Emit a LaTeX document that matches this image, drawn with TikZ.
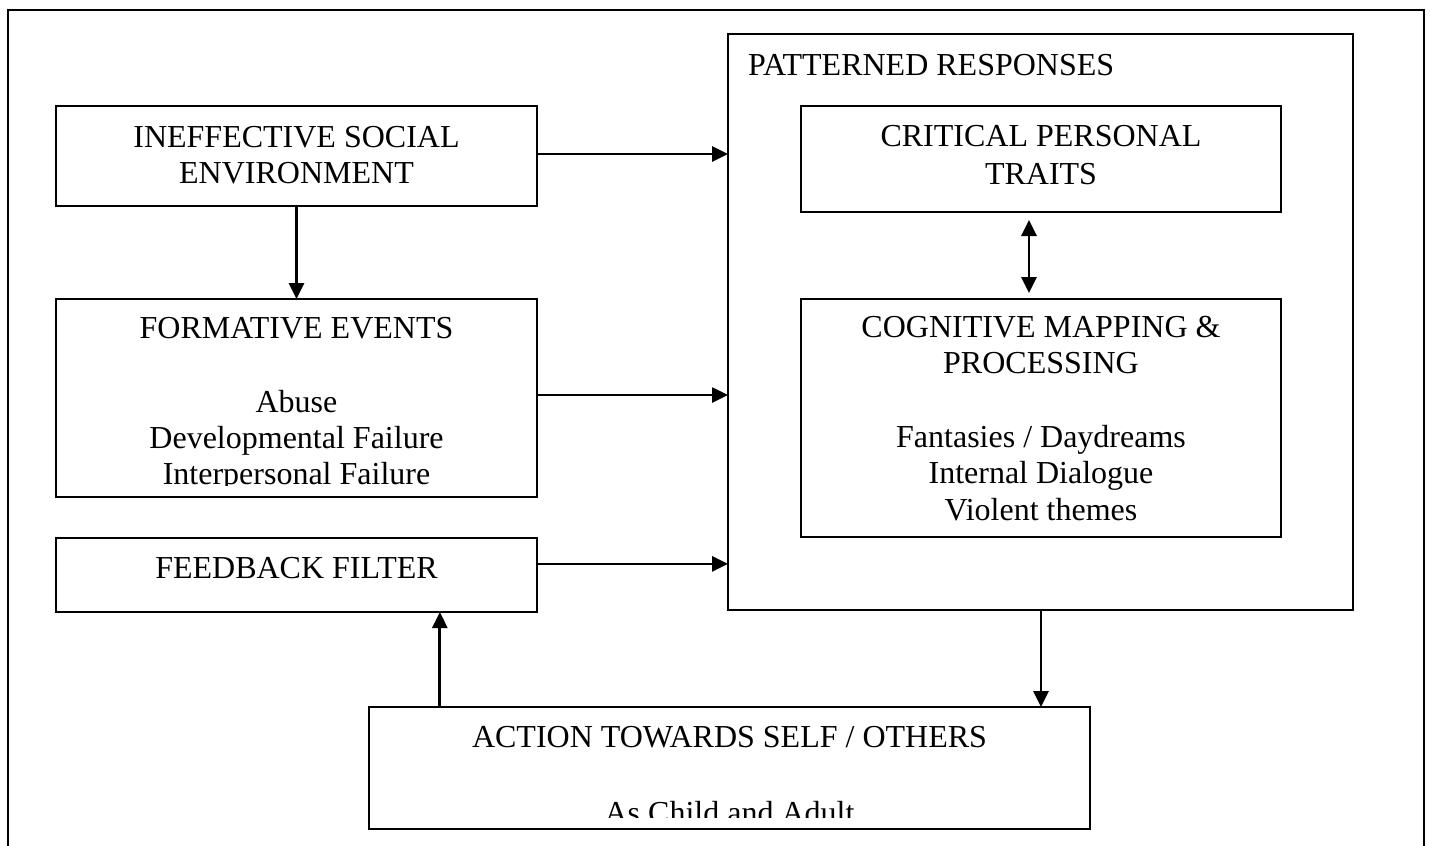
\documentclass[tikz,border=0pt]{standalone}
\usepackage{fontspec}
\setmainfont{Liberation Serif}
\usetikzlibrary{arrows.meta,calc}
\begin{document}
\begin{tikzpicture}[x=1pt,y=-1pt,
  box/.style={draw, line width=2pt, inner sep=0pt, outer sep=0pt},
  txt/.style={inner sep=0pt, anchor=base, font=\fontsize{32}{36}\selectfont},
  arr/.style={line width=2.8pt, -{Triangle[length=16pt,width=15pt]}},
  darr/.style={line width=2.8pt, {Triangle[length=16pt,width=15pt]}-{Triangle[length=16pt,width=15pt]}}]
\useasboundingbox (0,0) rectangle (1430,846);
% outer frame (open at the bottom)
\draw[line width=2pt] (8,860) -- (8,10) -- (1424,10) -- (1424,860);

% boxes
\node[box, minimum width=481, minimum height=100] (ise) at (296.5,156) {};
\node[box, minimum width=481, minimum height=198] (fe) at (296.5,398) {};
\node[box, minimum width=481, minimum height=74] (ff) at (296.5,575) {};
\node[box, minimum width=625, minimum height=576] (pr) at (1040.5,322) {};
\node[box, minimum width=480, minimum height=106] (cpt) at (1041,159) {};
\node[box, minimum width=480, minimum height=238] (cm) at (1041,418) {};
\node[box, minimum width=721, minimum height=122] (action) at (729.5,768) {};

% texts
\node[txt] (ise1) at (296.5,147) {INEFFECTIVE SOCIAL};
\node[txt] (ise2) at (296.5,183) {ENVIRONMENT};
\node[txt] (fe1) at (296.5,338) {FORMATIVE EVENTS};
\node[txt] (fe2) at (296.5,412) {Abuse};
\node[txt] (fe3) at (296.5,448) {Developmental Failure};
\begin{scope}
  \clip (40,460) rectangle (560,485);
  \node[txt] (fe4) at (296.5,484) {Interpersonal Failure};
\end{scope}
\node[txt] (ff1) at (296.5,578) {FEEDBACK FILTER};
\node[txt, anchor=base west] (pr1) at (748,75) {PATTERNED RESPONSES};
\node[txt] (cpt1) at (1041,146) {CRITICAL PERSONAL};
\node[txt] (cpt2) at (1041,184) {TRAITS};
\node[txt] (cm1) at (1041,337) {COGNITIVE MAPPING \&};
\node[txt] (cm2) at (1041,373) {PROCESSING};
\node[txt] (cm3) at (1041,447) {Fantasies / Daydreams};
\node[txt] (cm4) at (1041,483) {Internal Dialogue};
\node[txt] (cm5) at (1041,520) {Violent themes};
\node[txt] (ac1) at (729.5,747) {ACTION TOWARDS SELF / OTHERS};
\begin{scope}
  \clip (380,790) rectangle (1080,817);
  \node[txt] (ac2) at (729.5,823) {As Child and Adult};
\end{scope}

% connectors
\coordinate (a1) at ($(ise.north east)!0.48!(ise.south east)$);
\coordinate (a2) at ($(fe.north east)!0.485!(fe.south east)$);
\coordinate (a3) at ($(ff.north east)!0.35!(ff.south east)$);
\coordinate (a4) at ($(ff.south west)!0.798!(ff.south east)$);
\draw[arr] (a1) -- (a1 -| pr.west);
\draw[arr] (a2) -- (a2 -| pr.west);
\draw[arr] (a3) -- (a3 -| pr.west);
\draw[arr] (ise.south) -- (fe.north);
\draw[arr] (pr.south -| cpt.south) -- (action.north -| cpt.south);
\draw[arr] (action.north -| a4) -- (a4);
\draw[darr] ([xshift=-12pt,yshift=-8pt]cpt.south) -- ([xshift=-12pt,yshift=6pt]cm.north);
\end{tikzpicture}
\end{document}
